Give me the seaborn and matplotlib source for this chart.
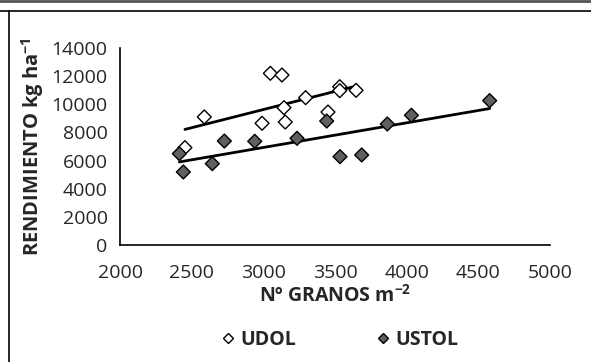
import matplotlib
matplotlib.use('Agg')
import matplotlib.pyplot as plt
import seaborn as sns
import numpy as np
import pandas as pd
from matplotlib.lines import Line2D

# Data
udol_granos = [3049, 3130, 2588, 3144, 2991, 3153, 3295, 3451, 3533, 3533, 3647, 2453]
udol_rend = [12200, 12080, 9100, 9760, 8650, 8740, 10470, 9450, 11250, 10970, 10990, 6920]
ustol_granos = [2414, 2442, 2644, 2728, 2940, 3235, 3442, 3535, 3686, 3865, 4033, 4579]
ustol_rend = [6490, 5190, 5780, 7390, 7370, 7580, 8810, 6280, 6400, 8600, 9220, 10260]

x_ticks = [2000, 2500, 3000, 3500, 4000, 4500, 5000]
y_ticks = [0, 2000, 4000, 6000, 8000, 10000, 12000, 14000]

df = pd.concat([
    pd.DataFrame({'granos': udol_granos, 'rend': udol_rend, 'serie': 'UDOL'}),
    pd.DataFrame({'granos': ustol_granos, 'rend': ustol_rend, 'serie': 'USTOL'}),
])

sns.set_style('white')
plt.rcParams['font.family'] = ['Open Sans', 'DejaVu Sans']
plt.rcParams['mathtext.fontset'] = 'custom'
plt.rcParams['mathtext.rm'] = 'Open Sans'
plt.rcParams['mathtext.bf'] = 'Open Sans:bold'

fig = plt.figure(figsize=(5.91, 3.62), dpi=100)
ax = fig.add_axes([120 / 591, 1 - 245 / 362, 430 / 591, 197 / 362])

# trend lines
for serie in ['UDOL', 'USTOL']:
    sub = df[df['serie'] == serie]
    sns.regplot(data=sub, x='granos', y='rend', ax=ax, scatter=False, ci=None,
                truncate=True, line_kws={'color': 'black', 'lw': 2})

sns.scatterplot(data=df, x='granos', y='rend', hue='serie', style='serie',
                palette={'UDOL': 'white', 'USTOL': '#606060'},
                markers={'UDOL': 'D', 'USTOL': 'D'}, s=50,
                edgecolor='black', linewidth=1, ax=ax, legend=False, zorder=3)

ax.set_xlim(2000, 5000)
ax.set_ylim(0, 14000)
ax.set_xticks(x_ticks)
ax.set_yticks(y_ticks)
ax.tick_params(axis='both', direction='out', length=5, width=1, color='black',
               labelsize=14, pad=4)
ax.tick_params(axis='x', pad=9)
for s in ['top', 'right']:
    ax.spines[s].set_visible(False)
for s in ['left', 'bottom']:
    ax.spines[s].set_color('black')
    ax.spines[s].set_linewidth(1.2)

ax.set_xlabel(r'Nº GRANOS m$^{\mathbf{-2}}$', fontsize=14, fontweight='bold', labelpad=2)
ax.set_ylabel(r'RENDIMIENTO kg ha$^{\mathbf{-1}}$', fontsize=14.5, fontweight='bold', labelpad=4)

handles = [
    Line2D([], [], marker='D', ls='', markersize=5, markerfacecolor='white',
           markeredgecolor='black', label='UDOL'),
    Line2D([], [], marker='D', ls='', markersize=5, markerfacecolor='#606060',
           markeredgecolor='black', label='USTOL'),
]
fig.legend(handles=handles, loc='center', bbox_to_anchor=(0.57, 1 - 340 / 362),
           ncol=2, frameon=False, handletextpad=0.0, handlelength=1.3,
           columnspacing=3.8, prop={'weight': 'bold', 'size': 14})

# outer frame of the picture
fig.add_artist(Line2D([0, 1], [1 - 0.5 / 362, 1 - 0.5 / 362], color='#555555', lw=2))
fig.add_artist(Line2D([0, 1], [1 - 11 / 362, 1 - 11 / 362], color='black', lw=1.2))
fig.add_artist(Line2D([9 / 591, 9 / 591], [0, 1 - 11 / 362], color='black', lw=1.2))

fig.savefig('out.png', dpi=100)
